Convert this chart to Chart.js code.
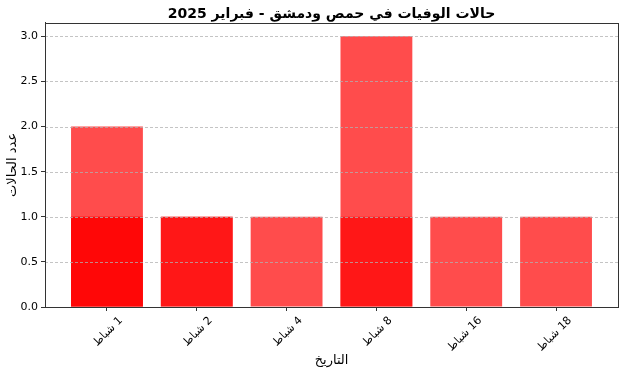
<!DOCTYPE html>
<html>
<head>
<meta charset="utf-8">
<script src="https://cdn.jsdelivr.net/npm/chart.js@4/dist/chart.umd.min.js"></script>
<style>
  html, body { margin: 0; padding: 0; background: #fff; }
  #wrap { width: 624px; height: 372px; }
</style>
</head>
<body>
<div id="wrap"><canvas id="deaths" dir="rtl" width="624" height="372"></canvas></div>
<script>
// dates (Feb 2025) and overlapping bar layers
const categories = ['1 شباط', '2 شباط', '4 شباط', '8 شباط', '16 شباط', '18 شباط'];
const layerA = [2, 1, 1, 3, 1, 1];
const layerB = [1, 1, null, 1, null, null];
const layerC = [1, null, null, null, null, null];
const yTicks = [0, 0.5, 1, 1.5, 2, 2.5, 3];

const FONT = 'DejaVu Sans';
const barColor = 'rgba(255,0,0,0.7)';

const toPoints = arr => arr.map((v, i) => ({ x: i, y: v })).filter(p => p.y !== null);

const layer = data => ({
  data: toPoints(data),
  backgroundColor: barColor,
  borderWidth: 0,
  grouped: false,
  barPercentage: 0.8,
  categoryPercentage: 1.0
});

// dashed grid drawn over the bars, then the full box like matplotlib spines
const frame = {
  id: 'frame',
  afterDatasetsDraw(chart) {
    const { ctx, chartArea: a, scales: { y } } = chart;
    ctx.save();
    ctx.strokeStyle = 'rgba(176,176,176,0.75)';
    ctx.lineWidth = 1;
    ctx.setLineDash([3, 2]);
    yTicks.forEach(v => {
      const py = Math.round(y.getPixelForValue(v)) + 0.5;
      ctx.beginPath();
      ctx.moveTo(a.left, py);
      ctx.lineTo(a.right, py);
      ctx.stroke();
    });
    ctx.setLineDash([]);
    ctx.strokeStyle = '#333';
    ctx.strokeRect(Math.round(a.left) + 0.5, Math.round(a.top) + 0.5,
      Math.round(a.right - a.left), Math.round(a.bottom - a.top));
    ctx.restore();
  }
};

new Chart(document.getElementById('deaths'), {
  type: 'bar',
  data: { datasets: [layer(layerA), layer(layerB), layer(layerC)] },
  plugins: [frame],
  options: {
    responsive: false,
    animation: false,
    layout: { padding: { left: 0, right: 6, top: 0, bottom: 0 } },
    plugins: {
      legend: { display: false },
      tooltip: { enabled: false },
      title: {
        display: true,
        fullSize: false,
        text: 'حالات الوفيات في حمص ودمشق - فبراير 2025',
        color: '#000',
        font: { family: FONT, size: 14, weight: 'bold' },
        padding: { top: 6, bottom: 0 }
      }
    },
    scales: {
      x: {
        type: 'linear',
        offset: false,
        min: -0.69, max: 5.69,
        afterBuildTicks: s => { s.ticks = categories.map((_, i) => ({ value: i })); },
        afterFit: s => { s.height = 65; },
        ticks: {
          callback: v => categories[v],
          minRotation: 45, maxRotation: 45,
          labelOffset: 14,
          padding: 3,
          color: '#000',
          font: { family: FONT, size: 11 }
        },
        grid: { offset: false, drawOnChartArea: false, tickLength: 4, color: '#333' },
        border: { color: '#333' },
        title: {
          display: true, text: 'التاريخ', color: '#000',
          font: { family: FONT, size: 13 }, padding: { top: 0, bottom: 4 }
        }
      },
      y: {
        min: 0, max: 3.15,
        afterBuildTicks: s => { s.ticks = yTicks.map(v => ({ value: v })); },
        afterFit: s => { s.width = 45; },
        ticks: {
          callback: v => v.toFixed(1),
          color: '#000',
          padding: 3,
          font: { family: FONT, size: 11 }
        },
        grid: { drawOnChartArea: false, color: '#333', tickLength: 4 },
        border: { color: '#333' },
        title: {
          display: true, text: 'عدد الحالات', color: '#000',
          font: { family: FONT, size: 13 }, padding: { top: 5, bottom: 0 }
        }
      }
    }
  }
});
</script>
</body>
</html>
